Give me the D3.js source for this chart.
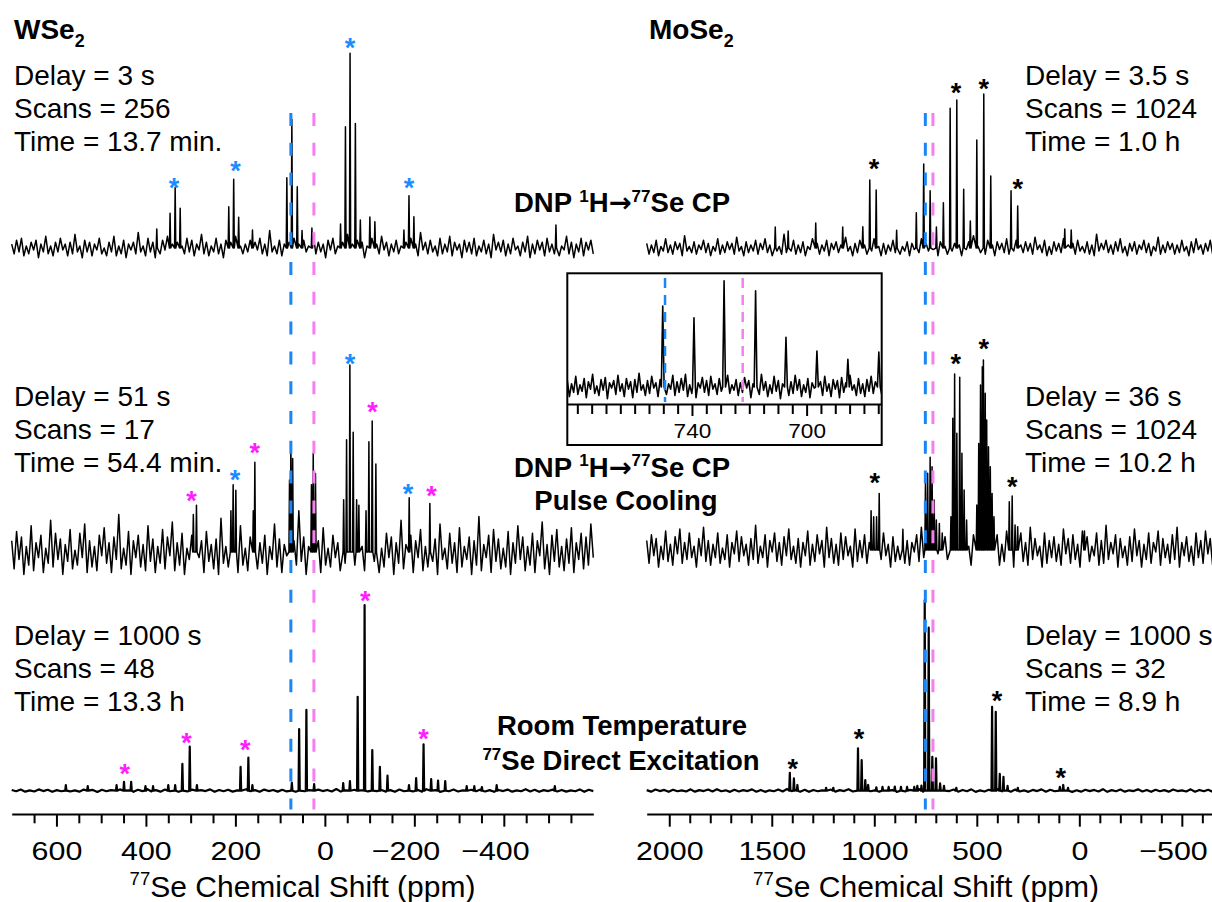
<!DOCTYPE html>
<html><head><meta charset="utf-8">
<script src="https://cdn.jsdelivr.net/npm/d3@7"></script>
<style>body{margin:0;background:#fff}svg{display:block;background:#fff}</style>
</head><body>
<svg id="chart" width="1212" height="902"></svg>
<script>
// ---------------- DATA ----------------
const leftDomain = [700, -600];
const rightDomain = [2110, -650];
const insetDomain = [783.5, 673.8];

const leftMajorTicks = [600, 400, 200, 0, -200, -400];
const leftTickLabels = ["600", "400", "200", "0", "\u2212200", "\u2212400"];
const leftMinorTicks = [650, 550, 500, 450, 350, 300, 250, 150, 100, 50, -50, -100, -150, -250, -300, -350, -450, -500, -550];
const rightMajorTicks = [2000, 1500, 1000, 500, 0, -500];
const rightTickLabels = ["2000", "1500", "1000", "500", "0", "\u2212500"];
const rightMinorTicks = [1900, 1800, 1700, 1600, 1400, 1300, 1200, 1100, 900, 800, 700, 600, 400, 300, 200, 100, -100, -200, -300, -400, -600];
const insetMajorTicks = [740, 700];
const insetTickLabels = ["740", "700"];
const insetMinorTicks = [780, 775, 770, 765, 760, 755, 750, 745, 735, 730, 725, 720, 715, 710, 705, 695, 690, 685, 680, 675];

// reference shift lines (ppm): [blue, pink]
const wseRefShifts = [76, 24.5];
const moseRefShifts = [751, 714];
const insetRefShifts = [749.4, 722.3];

// peaks: [ppm, relative intensity]
const wseTopPeaks = [[375.7,9.8],[346,17.8],[334.6,31.2],[323.4,20.4],[214.8,21.2],[203.8,35.3],[192.7,15.8],[161.8,9.2],[85,36.1],[73.8,66.1],[61.7,31.5],[51,9],[29,10.3],[-35,12.3],[-46,62.3],[-56.3,100],[-68.2,64],[-79.3,14.4],[-100.6,15.9],[-111.8,13.5],[-176.7,9.2],[-188,26.9],[-199,16.1],[-516.5,11.8]];
const wseMidPeaks = [[294,20],[287,25],[210,22],[205,36],[199,33],[160,22],[156.5,48],[79,38.5],[76,59],[72,50],[30,36],[26,53],[21,42],[-42,28],[-48.5,60],[-55.9,100],[-63.3,64],[-71,28],[-76,25],[-92,22],[-98.4,59],[-105.8,70],[-114,47],[-188.5,29],[-234.7,26]];
const wseBotPeaks = [[579,3],[530,2.5],[465.6,3],[449,4.8],[433,4.8],[401,2.5],[384,2.5],[350,3],[334.6,3],[318.5,14.5],[302,23.7],[286,3],[188.4,12.9],[171,17.8],[162,3],[73.8,4.3],[57.5,33.2],[41.3,43.5],[24,3.6],[-41,4.1],[-56,5.2],[-73.3,50.6],[-88.8,100],[-106,21.9],[-123,12.9],[-140,8.1],[-188,3],[-204,6.8],[-220.6,25],[-237.6,6.3],[-253,5.4],[-269,5.2],[-317,2.5],[-334,2.5],[-351,2],[-384,3],[-514,2.5]];
const moseTopPeaks = [[1483,13.6],[1420,11],[1285.6,16.2],[1154,13.6],[1056,13.8],[1022,44.2],[990.7,37.7],[891,11.5],[795,22.9],[759,54.5],[727.6,37.2],[697,13.6],[663,29.4],[630,90.7],[597.6,96.1],[564,38.1],[531.6,17.5],[500,70.1],[466,100],[432,46.8],[333,37.2],[300.6,27.3],[71,12.3],[39.5,11.7]];
const moseMidPeaks = [[1015.6,20.7],[1003,17.5],[988.8,17.5],[976,29.8],[860.6,10.9],[750.5,35.1],[739.8,40.4],[727.6,48.8],[718.3,43.8],[708,26.3],[697.4,15.8],[682.7,14],[668.6,8.9],[626.2,17.5],[617,69.3],[608.2,92.6],[597.5,61.4],[583.3,90.9],[572.6,50.9],[561.9,31.6],[549.7,15.8],[500,23.7],[490.7,56.1],[481.9,86.8],[473.2,96.5],[467.8,100],[459,82.5],[451.8,68.4],[443,54.4],[434.2,43.8],[425.4,29.8],[416.2,17.5],[341.6,25.4],[327.5,28.4],[313.4,13.2],[300.7,12.3],[-25,10]];
const moseBotPeaks = [[1412,9.4],[1392,6.5],[1375,3],[1235,1.5],[1200,1.5],[1079.5,22.2],[1061.5,16.1],[1044,5.6],[1030,3],[990,1.8],[960,2],[930,2],[900,2.2],[870,2],[840,2],[805,2],[790,2.5],[770,2.7],[754,100],[734.6,85.5],[717,17.8],[699,17],[679,3.9],[660,2.5],[600,1.5],[425.5,44],[407.6,41.4],[388,8.8],[370,7.3],[350,2.5],[300,1.5],[95,2],[78.5,3],[55,1.5]];
const insetPeaks = [[750.2,76.2],[739.3,65.2],[728.8,100],[717.8,90.6],[707.2,46.8],[696.4,33.9],[685.6,26.1],[674.8,32.9]];

// baseline noise (relative intensity), estimated texture of each trace
const noiseWTop = [2,-3,4,-2,5,-4,1,-3,3,-1,4,-5,2,-2,6,-3,1,-4,3,-2,
5,-1,2,-4,3,-3,7,-2,1,-5,4,-2,3,-4,2,-1,5,-3,0,-4,
3,-2,6,-4,1,-3,4,-5,2,-1,3,-3,8,-2,1,-4,5,-2,3,-5,
2,-3,4,-1,6,-4,2,-2,3,-5,1,-3,5,-2,4,-4,2,-1,7,-3,
3,-4,1,-2,5,-3,2,-5,4,-1,3,-2,6,-4,1,-3,2,-2,4,-5,
3,-1,5,-3,2,-4,9,-2,1,-3,4,-4,2,-2,3,-5,5,-1,2,-3,
4,-2,1,-4,6,-3,3,-2,2,-5,4,-1,5,-3,1,-4,3,-2,7,-4,
2,-1,4,-3,3,-5,1,-2,5,-4,2,-3,6,-1,3,-4,2,-2,4,-3,
1,-5,3,-2,5,-3,2,-4,8,-1,3,-3,4,-2,1,-4,5,-3,2,-2,
6,-4,3,-1,2,-5,4,-2,3,-3,5,-4,1,-2,4,-3,2,-5,7,-1,
3,-2,4,-4,2,-3,5,-1,1,-4,3,-2,6,-5,2,-3,4,-1,3,-4,
5,-2,2,-3,4,-4,1,-1,6,-3,3,-5,2,-2,5,-4,3,-1,4,-3];
const noiseWMid = [6,-9,11,-4,8,-12,3,-7,14,-10,5,-3,9,-11,2,-6,17,-8,10,-4,
7,-12,4,-5,12,-9,1,-7,10,-3,15,-11,6,-8,3,-10,9,-2,13,-6,
5,-11,8,-4,20,-9,2,-7,11,-12,6,-3,9,-8,4,-10,14,-5,7,-11,
3,-6,12,-9,8,-2,16,-10,5,-7,10,-12,2,-4,9,-8,13,-3,6,-11,
11,-5,4,-9,7,-12,18,-6,3,-8,10,-4,6,-11,14,-7,2,-10,8,-3,
12,-9,5,-6,9,-12,3,-4,15,-8,7,-11,4,-2,11,-10,6,-7,22,-5,
8,-12,3,-9,10,-4,6,-11,13,-7,2,-8,9,-3,5,-10,16,-6,4,-12,
11,-7,7,-4,3,-10,12,-9,6,-5,14,-11,2,-8,10,-3,8,-12,5,-6,
17,-9,4,-7,9,-11,6,-3,12,-10,3,-8,11,-5,7,-12,15,-4,2,-9,
10,-6,5,-11,13,-8,3,-4,8,-12,6,-7,19,-10,4,-3,9,-11,12,-5,
7,-9,2,-8,11,-12,5,-6,14,-4,8,-10,3,-7,10,-11,6,-2,16,-9,
4,-12,9,-5,12,-8,3,-10,7,-6,13,-11,5,-4,10,-9,8,-7,15,-3];
const noiseWBot = [0.4,-0.3,0.6,-0.5,0.2,-0.4,0.7,-0.2,0.5,-0.6,0.3,-0.3,0.8,-0.4,0.2,-0.5,0.6,-0.2,0.4,-0.7,
0.5,-0.3,0.3,-0.5,0.7,-0.4,0.2,-0.6,0.5,-0.2,0.9,-0.4,0.3,-0.5,0.6,-0.3,0.4,-0.6,0.2,-0.4,
0.6,-0.5,0.3,-0.2,0.7,-0.6,0.4,-0.3,0.5,-0.5,0.2,-0.4,0.8,-0.3,0.3,-0.6,0.6,-0.2,0.4,-0.5,
0.5,-0.4,0.2,-0.6,0.7,-0.3,0.3,-0.5,0.6,-0.2,0.4,-0.4,0.9,-0.5,0.2,-0.3,0.5,-0.6,0.3,-0.4,
0.7,-0.2,0.4,-0.5,0.3,-0.6,0.6,-0.3,0.2,-0.4,0.5,-0.5,0.8,-0.2,0.3,-0.6,0.4,-0.3,0.6,-0.4,
0.2,-0.5,0.5,-0.3,0.7,-0.4,0.3,-0.6,0.4,-0.2,0.6,-0.5,0.2,-0.3,0.8,-0.4,0.5,-0.6,0.3,-0.2,
0.6,-0.4,0.4,-0.5,0.2,-0.3,0.7,-0.6,0.5,-0.2];
const noiseMTop = [3,-4,2,-3,5,-5,1,-2,6,-3,2,-4,4,-1,3,-5,8,-2,1,-3,
4,-4,2,-1,5,-3,3,-5,1,-2,6,-4,2,-3,4,-1,3,-4,7,-2,
1,-5,4,-3,2,-2,5,-4,3,-1,6,-3,2,-5,4,-2,1,-4,9,-3,
3,-2,5,-4,2,-3,4,-5,1,-1,6,-3,3,-4,2,-2,5,-5,3,-1,
4,-3,2,-4,7,-2,1,-5,3,-3,5,-1,2,-4,4,-2,6,-3,1,-5,
3,-4,2,-2,5,-3,10,-4,1,-2,4,-5,3,-1,2,-3,6,-4,3,-2,
5,-1,2,-5,4,-3,1,-4,6,-2,3,-3,2,-5,5,-1,4,-4,8,-2,
1,-3,3,-4,5,-2,2,-5,4,-1,3,-3,6,-4,1,-2,5,-5,2,-3,
4,-2,3,-4,7,-1,2,-3,5,-5,1,-4,4,-2,3,-3,6,-1,2,-5,
3,-4,5,-2,1,-3,4,-4,2,-5,9,-2,3,-1,5,-3,2,-4,4,-2,
6,-3,1,-5,3,-2,4,-4,2,-1,5,-3,3,-5,1,-2,7,-4,2,-3,
4,-1,3,-4,2,-3,5,-2,1,-5,4,-3,6,-1,2,-4,3,-2,5,-4];
const noiseMMid = [5,-7,8,-3,6,-9,2,-5,10,-6,3,-8,7,-2,11,-7,4,-5,9,-4,
2,-9,6,-3,12,-6,5,-8,3,-4,9,-7,1,-5,8,-9,4,-2,10,-6,
7,-3,3,-8,6,-5,13,-7,2,-4,8,-9,5,-1,9,-6,4,-8,7,-3,
11,-5,2,-7,6,-9,4,-3,10,-8,3,-6,8,-2,5,-9,12,-4,6,-7,
3,-8,9,-5,7,-3,2,-9,11,-6,5,-4,8,-7,4,-2,14,-8,6,-5,
9,-3,3,-9,7,-6,2,-5,10,-7,5,-8,4,-1,8,-6,12,-4,3,-9,
6,-7,10,-2,4,-8,7,-5,3,-9,9,-4,6,-6,13,-3,2,-8,8,-5,
5,-9,4,-3,11,-7,6,-2,8,-8,3,-6,10,-5,2,-9,7,-4,9,-6,
4,-8,12,-5,6,-3,2,-9,9,-7,5,-4,7,-6,3,-8,11,-2,6,-7,
8,-5,3,-9,10,-4,7,-6,2,-3,9,-8,5,-7,13,-5,4,-2,8,-9,
6,-4,2,-8,7,-6,11,-3,5,-9,3,-5,9,-7,4,-1,10,-8,6,-4,
3,-7,8,-5,12,-9,4,-3,7,-6,2,-8,9,-4,5,-7,10,-2,6,-8];
const noiseMBot = [0.3,-0.5,0.6,-0.2,0.4,-0.6,0.5,-0.3,0.2,-0.4,0.7,-0.5,0.3,-0.2,0.6,-0.4,0.8,-0.3,0.2,-0.6,
0.5,-0.4,0.3,-0.2,0.7,-0.5,0.4,-0.6,0.2,-0.3,0.6,-0.4,0.9,-0.2,0.3,-0.5,0.5,-0.6,0.4,-0.3,
0.2,-0.4,0.6,-0.5,0.3,-0.2,0.8,-0.4,0.5,-0.6,0.4,-0.3,0.2,-0.5,0.7,-0.2,0.3,-0.6,0.6,-0.4,
0.4,-0.3,0.9,-0.5,0.2,-0.4,0.5,-0.6,0.3,-0.2,0.6,-0.5,0.4,-0.3,0.7,-0.6,0.2,-0.4,0.5,-0.2,
0.8,-0.3,0.3,-0.5,0.6,-0.4,0.2,-0.6,0.4,-0.2,0.7,-0.5,0.5,-0.3,0.3,-0.4,0.6,-0.6,0.2,-0.5,
0.5,-0.2,0.4,-0.4,0.8,-0.6,0.3,-0.3,0.6,-0.5,0.2,-0.2,0.7,-0.4,0.4,-0.6,0.5,-0.3,0.3,-0.5,
0.6,-0.2,0.2,-0.4,0.7,-0.5,0.4,-0.3,0.5,-0.6];
const noiseInset = [6,-9,3,-5,10,-7,2,-4,8,-10,5,-2,12,-6,1,-8,7,-3,9,-11,
4,-1,6,-7,11,-4,3,-9,8,-2,5,-10,7,-5,13,-3,2,-8,6,-6,
10,-1,4,-9,7,-4,9,-7,3,-2,11,-8,5,-5,8,-3,12,-9,2,-6,
7,-10,4,-1,9,-5,6,-8,10,-2,3,-7,8,-4,5,-9,11,-6,2,-3,
7,-8,4,-5,9,-1,6,-10,3,-4,8,-7,12,-3,5,-9,2,-6,10,-4,
6,-11,3,-2,9,-8,5,-6,11,-3,7,-9,2,-5,8,-10,4,-1,13,-7,
5,-8,10,-4,3,-9,7,-2,6,-10,9,-5,4,-7,11,-3,2,-8,8,-6,
3,-9,7,-4,10,-6,5,-2,8,-7];

// asterisk markers: [ppm, relative level]
const wseTopStarsBlue = [[337,34.1],[200,42.5],[-56.3,106],[-188,34.1]];
const wseMidStarsBlue = [[201,41.7],[-56,103.6],[-186,34.4]];
const wseMidStarsMag = [[298,30.5],[156.5,56.3],[-106.6,78],[-238.5,33.2]];
const wseBotStarsMag = [[447.5,12.1],[309,28.9],[178,25.1],[-90,105.4],[-220.6,31.2]];
const moseTopStars = [[1001,55.2],[601,104.4],[466,107],[300.7,42]];
const moseMidStars = [[997.6,38.6],[603,101],[466,109],[327.5,36.3]];
const moseBotStars = [[1397.7,14.7],[1074,30.1],[402,50.2],[91,10]];

// text
const wseInfo = [["Delay = 3 s","Scans = 256","Time = 13.7 min."],["Delay = 51 s","Scans = 17","Time = 54.4 min."],["Delay = 1000 s","Scans = 48","Time = 13.3 h"]];
const moseInfo = [["Delay = 3.5 s","Scans = 1024","Time = 1.0 h"],["Delay = 36 s","Scans = 1024","Time = 10.2 h"],["Delay = 1000 s","Scans = 32","Time = 8.9 h"]];

// ---------------- DRAWING ----------------
const FONT = "'Liberation Sans', Arial, Helvetica, sans-serif";
const BLUE = "#1a86f5", PINK = "#f57ef0", STAR_BLUE = "#1a8cff", MAGENTA = "#ff1cff";
const svg = d3.select("#chart");

const xL = d3.scaleLinear().domain(leftDomain).range([11.7, 593.3]);
const xR = d3.scaleLinear().domain(rightDomain).range([646.7, 1212.6]);
const xI = d3.scaleLinear().domain(insetDomain).range([567.3, 881.7]);
const yS = (base, top) => d3.scaleLinear().domain([0, 100]).range([base, top]);

const yWTop = yS(248, 53.3), yWMid = yS(552, 365), yWBot = yS(790.7, 605);
const yMTop = yS(248, 94), yMMid = yS(550, 360), yMBot = yS(790.7, 600);
const yIn = yS(387, 280.7);

function buildTrace(x, noise, peaks, halfPx) {
  const dom = x.domain();
  const n = noise.length;
  let pts = noise.map((v, i) => ({ p: dom[0] + (dom[1] - dom[0]) * i / (n - 1), v }));
  pts = pts.filter(pt => !peaks.some(([p]) => Math.abs(x(pt.p) - x(p)) < halfPx + 0.6));
  peaks.forEach(([p, h]) => {
    const d = Math.abs(x.invert(x(p) + halfPx) - p);
    pts.push({ p: p + d, v: 0 }, { p: p, v: h }, { p: p - d, v: 0 });
  });
  pts.sort((a, b) => b.p - a.p);
  return pts;
}
function drawTrace(g, x, y, noise, peaks, width, halfPx) {
  const pts = buildTrace(x, noise, peaks, halfPx);
  g.append("path").datum(pts)
    .attr("fill", "none").attr("stroke", "#000").attr("stroke-width", width)
    .attr("stroke-linejoin", "round")
    .attr("d", d3.line().x(d => x(d.p)).y(d => y(d.v)));
}

const spectra = svg.append("g");
drawTrace(spectra, xL, yWTop, noiseWTop, wseTopPeaks, 1.5, 0.6);
drawTrace(spectra, xL, yWMid, noiseWMid, wseMidPeaks, 1.5, 0.6);
drawTrace(spectra, xL, yWBot, noiseWBot, wseBotPeaks, 2.2, 0.6);
drawTrace(spectra, xR, yMTop, noiseMTop, moseTopPeaks, 1.5, 0.6);
drawTrace(spectra, xR, yMMid, noiseMMid, moseMidPeaks, 1.5, 0.6);
drawTrace(spectra, xR, yMBot, noiseMBot, moseBotPeaks, 2.2, 0.6);

// dashed reference lines
function refLines(x, shifts, y1, y2, width, dash) {
  [BLUE, PINK].forEach((c, i) => {
    svg.append("line")
      .attr("x1", x(shifts[i])).attr("x2", x(shifts[i]))
      .attr("y1", y1).attr("y2", y2)
      .attr("stroke", c).attr("stroke-width", width)
      .attr("stroke-dasharray", dash);
  });
}
refLines(xL, wseRefShifts, 113, 809.5, 3, "13,16.8");
refLines(xR, moseRefShifts, 113, 809.5, 3, "13,16.8");

// asterisks
function stars(x, y, list, color) {
  svg.append("g").selectAll("text").data(list).join("text")
    .attr("x", d => x(d[0])).attr("y", d => y(d[1]) + 15)
    .attr("text-anchor", "middle")
    .attr("font-family", FONT).attr("font-weight", "bold").attr("font-size", 27)
    .attr("fill", color).text("*");
}
stars(xL, yWTop, wseTopStarsBlue, STAR_BLUE);
stars(xL, yWMid, wseMidStarsBlue, STAR_BLUE);
stars(xL, yWMid, wseMidStarsMag, MAGENTA);
stars(xL, yWBot, wseBotStarsMag, MAGENTA);
stars(xR, yMTop, moseTopStars, "#000");
stars(xR, yMMid, moseMidStars, "#000");
stars(xR, yMBot, moseBotStars, "#000");

// axes
function drawAxis(x, y0, majors, labels, minors, majorLen, minorLen, fontSize, stretch, labelY) {
  const g = svg.append("g").attr("transform", `translate(0,${y0})`).style("color", "#000");
  g.call(d3.axisBottom(x).tickValues(majors).tickSize(majorLen).tickSizeOuter(0)
    .tickFormat((d, i) => labels[i]));
  g.select(".domain").attr("stroke-width", 2);
  g.selectAll(".tick line").attr("stroke-width", 2);
  g.selectAll(".tick text")
    .attr("y", labelY).attr("dy", null)
    .attr("font-family", FONT).attr("font-size", fontSize)
    .attr("transform", `scale(${stretch},1)`)
    .each(function () {
      // keep the digits centred on the tick; a leading minus hangs to the left
      const s = this.textContent;
      if (s.startsWith("\u2212")) {
        const full = this.getComputedTextLength();
        this.textContent = s.slice(1);
        const digits = this.getComputedTextLength();
        this.textContent = s;
        d3.select(this).attr("text-anchor", "end").attr("x", digits / 2);
        void full;
      }
    });
  const gm = svg.append("g").attr("transform", `translate(0,${y0})`).style("color", "#000");
  gm.call(d3.axisBottom(x).tickValues(minors).tickSize(minorLen).tickSizeOuter(0).tickFormat(""));
  gm.select(".domain").remove();
  gm.selectAll(".tick line").attr("stroke-width", 2);
  return g;
}
drawAxis(xL, 814, leftMajorTicks, leftTickLabels, leftMinorTicks, 12.7, 9.3, 26, 1.17, 46);
drawAxis(xR, 814, rightMajorTicks, rightTickLabels, rightMinorTicks, 12.7, 9.3, 26, 1.17, 46);

// rich text helper: parts [{t, s:'sup'|'sub'|undefined, f: font}]
function richText(x, y, parts, size, bold, anchor) {
  const t = svg.append("text").attr("x", x).attr("y", y)
    .attr("font-family", FONT).attr("font-size", size)
    .attr("font-weight", bold ? "bold" : "normal")
    .attr("text-anchor", anchor || "start").attr("fill", "#000");
  let shift = 0;
  parts.forEach(p => {
    let target = 0, fs = size;
    if (p.s === "sup") { target = -size * 0.38; fs = size * 0.62; }
    if (p.s === "sub") { target = size * 0.28; fs = size * 0.64; }
    const ts = t.append("tspan").attr("dy", target - shift).attr("font-size", fs).text(p.t);
    if (p.f) ts.attr("font-family", p.f);
    shift = target;
  });
  return t;
}

// axis titles
const axisTitle = [{ t: "77", s: "sup" }, { t: "Se Chemical Shift (ppm)" }];
richText(302.5, 896.5, axisTitle, 30, false, "middle");
richText(926, 896.5, axisTitle, 30, false, "middle");

// panel titles
richText(14, 39, [{ t: "WSe" }, { t: "2", s: "sub" }], 28, true);
richText(649, 39, [{ t: "MoSe" }, { t: "2", s: "sub" }], 28, true);

// info blocks
const infoBaselines = [[85, 118, 151], [406, 439, 472], [645, 678, 711]];
wseInfo.forEach((blk, i) => blk.forEach((s, j) => richText(14, infoBaselines[i][j], [{ t: s }], 28, false)));
moseInfo.forEach((blk, i) => blk.forEach((s, j) => richText(1025, infoBaselines[i][j], [{ t: s }], 28, false)));

// experiment labels
const cpLabel = [{ t: "DNP " }, { t: "1", s: "sup" }, { t: "H" }, { t: "\u2192", f: "'DejaVu Sans', sans-serif" }, { t: "77", s: "sup" }, { t: "Se CP" }];
richText(622, 212, cpLabel, 27.5, true, "middle");
richText(622, 476.7, cpLabel, 27.5, true, "middle");
richText(626, 510, [{ t: "Pulse Cooling" }], 27.5, true, "middle");
richText(622, 735, [{ t: "Room Temperature" }], 27.5, true, "middle");
richText(621, 770, [{ t: "77", s: "sup" }, { t: "Se Direct Excitation" }], 27.5, true, "middle");

// ---------------- INSET ----------------
const inset = svg.append("g");
inset.append("rect").attr("x", 567.3).attr("y", 273.3).attr("width", 314.4).attr("height", 171.7)
  .attr("fill", "#fff").attr("stroke", "#000").attr("stroke-width", 2);
svg.append("clipPath").attr("id", "insetClip").append("rect")
  .attr("x", 567.3).attr("y", 274).attr("width", 314.4).attr("height", 130);
const insetPlot = inset.append("g").attr("clip-path", "url(#insetClip)");
drawTrace(insetPlot, xI, yIn, noiseInset, insetPeaks, 1.6, 1.4);
[BLUE, PINK].forEach((c, i) => {
  inset.append("line")
    .attr("x1", xI(insetRefShifts[i])).attr("x2", xI(insetRefShifts[i]))
    .attr("y1", 278).attr("y2", 402)
    .attr("stroke", c).attr("stroke-width", 2.5).attr("stroke-dasharray", "10,7");
});
drawAxis(xI, 404, insetMajorTicks, insetTickLabels, insetMinorTicks, 12, 10, 20, 1.13, 34);
</script>
</body></html>
